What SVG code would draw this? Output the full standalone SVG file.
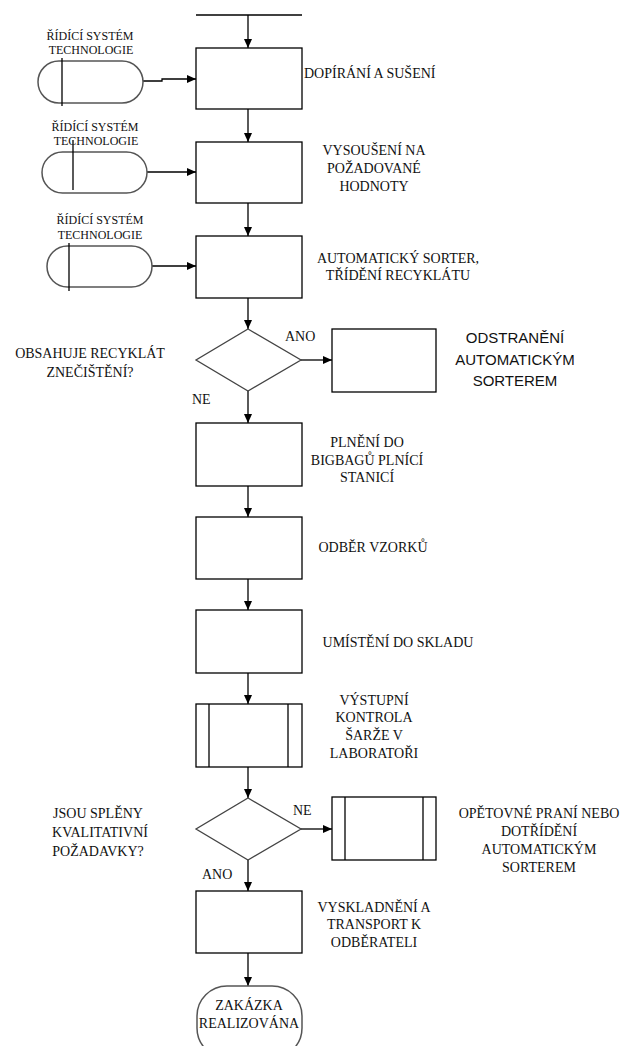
<svg xmlns="http://www.w3.org/2000/svg" width="628" height="1046" viewBox="0 0 628 1046">
<defs>
<marker id="arr" markerWidth="10" markerHeight="10" refX="9" refY="4" orient="auto" markerUnits="userSpaceOnUse">
<path d="M0,0 L9,4 L0,8 Z" fill="#000"/>
</marker>
<style>
.box{fill:#fff;stroke:#000;stroke-width:1.3}
.dia{fill:#fff;stroke:#444;stroke-width:1.3}
.term{fill:#fff;stroke:#555;stroke-width:1.5}
.ln{fill:none;stroke:#000;stroke-width:1.3}
.con{fill:none;stroke:#000;stroke-width:1.3;marker-end:url(#arr)}
.t{font-family:"Liberation Serif","Times New Roman",serif;font-size:14px;fill:#111}
.s{font-family:"Liberation Serif","Times New Roman",serif;font-size:12px;fill:#111}
.sans{font-family:"Liberation Sans",Arial,sans-serif;font-size:15px;fill:#111}
.m{text-anchor:middle}
</style>
</defs>
<rect width="628" height="1046" fill="#fff"/>

<g id="connectors">
<line class="ln" x1="196" y1="15" x2="302" y2="15"/>
<line class="con" x1="248" y1="15" x2="248" y2="48"/>
<polyline class="con" points="143,81 162,81 162,79 196,79"/>
<line class="con" x1="248" y1="109" x2="248" y2="142"/>
<line class="con" x1="147" y1="172" x2="196" y2="172"/>
<line class="con" x1="248" y1="203" x2="248" y2="236"/>
<line class="con" x1="152" y1="266" x2="196" y2="266"/>
<line class="con" x1="248" y1="298" x2="248" y2="329"/>
<line class="con" x1="301" y1="360" x2="332" y2="360"/>
<line class="con" x1="248" y1="391" x2="248" y2="423"/>
<line class="con" x1="248" y1="486" x2="248" y2="517"/>
<line class="con" x1="248" y1="579" x2="248" y2="610"/>
<line class="con" x1="248" y1="673" x2="248" y2="704"/>
<line class="con" x1="248" y1="767" x2="248" y2="798"/>
<line class="con" x1="301" y1="829" x2="332" y2="829"/>
<line class="con" x1="248" y1="860" x2="248" y2="891"/>
<line class="con" x1="248" y1="953" x2="248" y2="986"/>
</g>

<g id="ctrl1">
<rect class="term" x="38" y="61" width="105" height="42" rx="21"/>
<line class="ln" x1="62" y1="58" x2="62" y2="106"/>
<text class="s m" x="90" y="40">ŘÍDÍCÍ SYSTÉM</text>
<text class="s m" x="91" y="54">TECHNOLOGIE</text>
</g>
<g id="ctrl2">
<rect class="term" x="42" y="152" width="105" height="41" rx="20.5"/>
<line class="ln" x1="73" y1="140" x2="73" y2="190"/>
<text class="s m" x="95" y="131">ŘÍDÍCÍ SYSTÉM</text>
<text class="s m" x="96" y="145">TECHNOLOGIE</text>
</g>
<g id="ctrl3">
<rect class="term" x="47" y="246" width="105" height="41" rx="20.5"/>
<line class="ln" x1="69" y1="243" x2="69" y2="291"/>
<text class="s m" x="100" y="224">ŘÍDÍCÍ SYSTÉM</text>
<text class="s m" x="100" y="239">TECHNOLOGIE</text>
</g>

<g id="n1">
<rect class="box" x="196" y="48" width="106" height="61"/>
<text class="t" x="304" y="78">DOPÍRÁNÍ A SUŠENÍ</text>
</g>
<g id="n2">
<rect class="box" x="196" y="142" width="106" height="61"/>
<text class="t m" x="374" y="155">VYSOUŠENÍ NA</text>
<text class="t m" x="374" y="173">POŽADOVANÉ</text>
<text class="t m" x="374" y="191">HODNOTY</text>
</g>
<g id="n3">
<rect class="box" x="196" y="236" width="106" height="62"/>
<text class="t m" x="398" y="263">AUTOMATICKÝ SORTER,</text>
<text class="t m" x="398" y="280">TŘÍDĚNÍ RECYKLÁTU</text>
</g>
<g id="d1">
<polygon class="dia" points="248,329 301,360 248,391 196,360"/>
<text class="t m" x="90" y="358">OBSAHUJE RECYKLÁT</text>
<text class="t m" x="90" y="377">ZNEČIŠTĚNÍ?</text>
<text class="t" x="285" y="341">ANO</text>
<text class="t" x="192" y="404">NE</text>
</g>
<g id="n_odstr">
<rect class="box" x="332" y="329" width="104" height="63"/>
<text class="sans m" x="515" y="343">ODSTRANĚNÍ</text>
<text class="sans m" x="515" y="365">AUTOMATICKÝM</text>
<text class="sans m" x="515" y="386">SORTEREM</text>
</g>
<g id="n4">
<rect class="box" x="196" y="423" width="106" height="63"/>
<text class="t m" x="367" y="447">PLNĚNÍ DO</text>
<text class="t m" x="367" y="465">BIGBAGŮ PLNÍCÍ</text>
<text class="t m" x="367" y="482">STANICÍ</text>
</g>
<g id="n5">
<rect class="box" x="196" y="517" width="106" height="62"/>
<text class="t m" x="373" y="552">ODBĚR VZORKŮ</text>
</g>
<g id="n6">
<rect class="box" x="196" y="610" width="106" height="63"/>
<text class="t m" x="398" y="647">UMÍSTĚNÍ DO SKLADU</text>
</g>
<g id="n7">
<rect class="box" x="196" y="704" width="106" height="63"/>
<line class="ln" x1="209" y1="704" x2="209" y2="767"/>
<line class="ln" x1="288" y1="704" x2="288" y2="767"/>
<text class="t m" x="374" y="705">VÝSTUPNÍ</text>
<text class="t m" x="374" y="722">KONTROLA</text>
<text class="t m" x="374" y="740">ŠARŽE V</text>
<text class="t m" x="374" y="758">LABORATOŘI</text>
</g>
<g id="d2">
<polygon class="dia" points="248,798 301,829 248,860 196,829"/>
<text class="t m" x="98" y="818">JSOU SPLĚNY</text>
<text class="t m" x="100" y="837">KVALITATIVNÍ</text>
<text class="t m" x="98" y="856">POŽADAVKY?</text>
<text class="t" x="293" y="815">NE</text>
<text class="t" x="202" y="879">ANO</text>
</g>
<g id="n_opet">
<rect class="box" x="332" y="797" width="104" height="63"/>
<line class="ln" x1="345" y1="797" x2="345" y2="860"/>
<line class="ln" x1="423" y1="797" x2="423" y2="860"/>
<text class="t m" x="539" y="818">OPĚTOVNÉ PRANÍ NEBO</text>
<text class="t m" x="539" y="836">DOTŘÍDĚNÍ</text>
<text class="t m" x="539" y="854">AUTOMATICKÝM</text>
<text class="t m" x="539" y="872">SORTEREM</text>
</g>
<g id="n8">
<rect class="box" x="196" y="891" width="106" height="62"/>
<text class="t m" x="374" y="912">VYSKLADNĚNÍ A</text>
<text class="t m" x="374" y="929">TRANSPORT K</text>
<text class="t m" x="374" y="947">ODBĚRATELI</text>
</g>
<g id="end">
<rect class="term" x="197" y="986" width="105" height="72" rx="30"/>
<text class="t m" x="249" y="1010">ZAKÁZKA</text>
<text class="t m" x="249" y="1028">REALIZOVÁNA</text>
</g>
</svg>
